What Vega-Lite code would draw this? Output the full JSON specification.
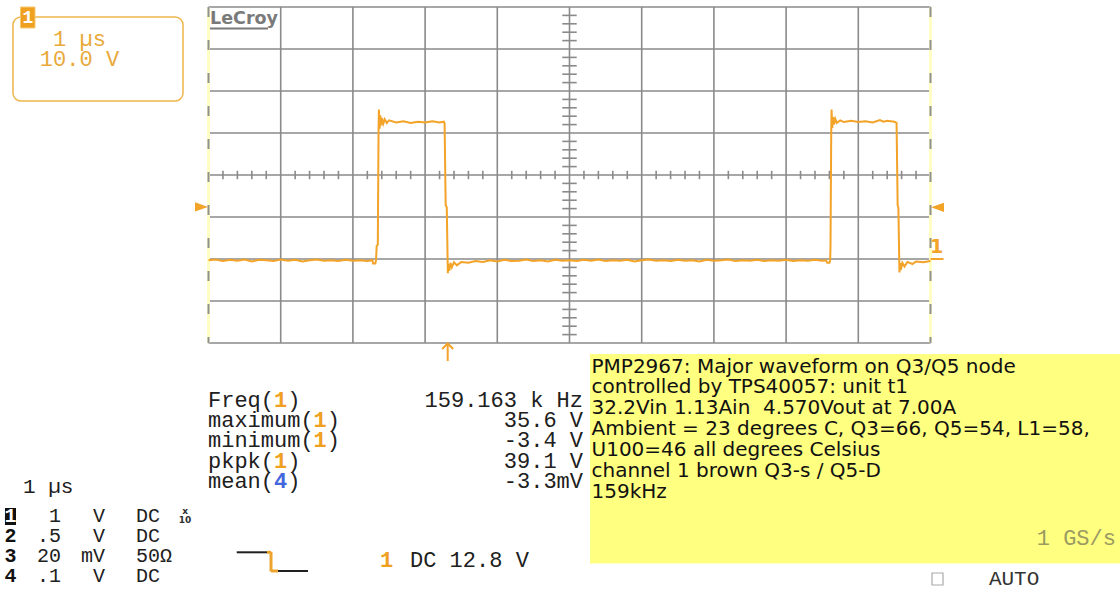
{
  "$schema": "https://vega.github.io/schema/vega-lite/v6.json",
  "width": 722,
  "height": 336,
  "autosize": {"type": "none"},
  "padding": {"left": 208.5, "top": 7, "right": 189.5, "bottom": 247},
  "background": "white",
  "config": {"view": {"stroke": null}},
  "data": {"values": [
    {"t": 0.00, "v": -0.3}, {"t": 0.10, "v": -0.1}, {"t": 0.20, "v": -0.5}, {"t": 0.30, "v": -0.2},
    {"t": 0.40, "v": -0.4}, {"t": 0.50, "v": -0.1}, {"t": 0.60, "v": -0.6}, {"t": 0.70, "v": -0.2},
    {"t": 0.80, "v": -0.3}, {"t": 0.90, "v": -0.5}, {"t": 1.00, "v": -0.1}, {"t": 1.10, "v": -0.4},
    {"t": 1.20, "v": -0.2}, {"t": 1.30, "v": -0.6}, {"t": 1.40, "v": -0.3}, {"t": 1.50, "v": -0.1},
    {"t": 1.60, "v": -0.4}, {"t": 1.70, "v": -0.3}, {"t": 1.80, "v": -0.5}, {"t": 1.90, "v": -0.2},
    {"t": 2.00, "v": -0.4}, {"t": 2.10, "v": -0.3}, {"t": 2.20, "v": -0.5}, {"t": 2.27, "v": -0.3},
    {"t": 2.28, "v": -1.1}, {"t": 2.31, "v": -1.1}, {"t": 2.32, "v": -0.3}, {"t": 2.33, "v": 3.2},
    {"t": 2.345, "v": 3.4}, {"t": 2.355, "v": 30.0}, {"t": 2.36, "v": 35.6}, {"t": 2.37, "v": 31.0},
    {"t": 2.38, "v": 34.2}, {"t": 2.39, "v": 31.8}, {"t": 2.40, "v": 33.6}, {"t": 2.42, "v": 32.2},
    {"t": 2.44, "v": 33.3}, {"t": 2.47, "v": 32.4}, {"t": 2.50, "v": 33.0}, {"t": 2.60, "v": 32.5},
    {"t": 2.70, "v": 32.8}, {"t": 2.80, "v": 32.4}, {"t": 2.90, "v": 32.7}, {"t": 3.00, "v": 32.5},
    {"t": 3.10, "v": 32.8}, {"t": 3.20, "v": 32.5}, {"t": 3.26, "v": 32.7}, {"t": 3.27, "v": 32.3},
    {"t": 3.285, "v": 12.8}, {"t": 3.30, "v": 12.3}, {"t": 3.315, "v": -3.4}, {"t": 3.325, "v": -1.2},
    {"t": 3.335, "v": -2.8}, {"t": 3.35, "v": -0.9}, {"t": 3.37, "v": -2.0}, {"t": 3.40, "v": -0.8},
    {"t": 3.44, "v": -1.5}, {"t": 3.50, "v": -0.7}, {"t": 3.60, "v": -0.9}, {"t": 3.70, "v": -0.5},
    {"t": 3.80, "v": -0.7}, {"t": 3.90, "v": -0.3}, {"t": 4.00, "v": -0.6}, {"t": 4.10, "v": -0.2},
    {"t": 4.20, "v": -0.5}, {"t": 4.30, "v": -0.4}, {"t": 4.40, "v": -0.1}, {"t": 4.50, "v": -0.5},
    {"t": 4.60, "v": -0.3}, {"t": 4.70, "v": -0.6}, {"t": 4.80, "v": -0.2}, {"t": 4.90, "v": -0.4},
    {"t": 5.00, "v": -0.3}, {"t": 5.10, "v": -0.5}, {"t": 5.20, "v": -0.2}, {"t": 5.30, "v": -0.4},
    {"t": 5.40, "v": -0.1}, {"t": 5.50, "v": -0.5}, {"t": 5.60, "v": -0.3}, {"t": 5.70, "v": -0.4},
    {"t": 5.80, "v": -0.2}, {"t": 5.90, "v": -0.6}, {"t": 6.00, "v": -0.3}, {"t": 6.10, "v": -0.1},
    {"t": 6.20, "v": -0.4}, {"t": 6.30, "v": -0.3}, {"t": 6.40, "v": -0.5}, {"t": 6.50, "v": -0.2},
    {"t": 6.60, "v": -0.4}, {"t": 6.70, "v": -0.3}, {"t": 6.80, "v": -0.6}, {"t": 6.90, "v": -0.2},
    {"t": 7.00, "v": -0.4}, {"t": 7.10, "v": -0.3}, {"t": 7.20, "v": -0.1}, {"t": 7.30, "v": -0.5},
    {"t": 7.40, "v": -0.3}, {"t": 7.50, "v": -0.4}, {"t": 7.60, "v": -0.2}, {"t": 7.70, "v": -0.5},
    {"t": 7.80, "v": -0.3}, {"t": 7.90, "v": -0.4}, {"t": 8.00, "v": -0.2}, {"t": 8.10, "v": -0.5},
    {"t": 8.20, "v": -0.3}, {"t": 8.30, "v": -0.4}, {"t": 8.40, "v": -0.2}, {"t": 8.50, "v": -0.4},
    {"t": 8.55, "v": -0.3}, {"t": 8.57, "v": -0.9}, {"t": 8.60, "v": -0.9}, {"t": 8.61, "v": -0.3},
    {"t": 8.615, "v": 3.0}, {"t": 8.625, "v": 30.0}, {"t": 8.63, "v": 35.6}, {"t": 8.64, "v": 31.2},
    {"t": 8.65, "v": 33.8}, {"t": 8.66, "v": 32.0}, {"t": 8.68, "v": 33.4}, {"t": 8.70, "v": 32.4},
    {"t": 8.75, "v": 33.0}, {"t": 8.80, "v": 32.6}, {"t": 8.90, "v": 32.9}, {"t": 9.00, "v": 32.6},
    {"t": 9.10, "v": 32.8}, {"t": 9.20, "v": 32.5}, {"t": 9.30, "v": 33.1}, {"t": 9.35, "v": 32.7},
    {"t": 9.40, "v": 32.9}, {"t": 9.50, "v": 32.7}, {"t": 9.53, "v": 32.4}, {"t": 9.545, "v": 12.8},
    {"t": 9.555, "v": 12.3}, {"t": 9.57, "v": -3.2}, {"t": 9.58, "v": -1.0}, {"t": 9.59, "v": -2.6},
    {"t": 9.61, "v": -0.9}, {"t": 9.64, "v": -1.8}, {"t": 9.68, "v": -0.7}, {"t": 9.75, "v": -1.2},
    {"t": 9.80, "v": -0.6}, {"t": 9.90, "v": -0.8}, {"t": 10.00, "v": -0.5}
  ]},
  "layer": [
    {
      "data": {"values": [{}]},
      "mark": {"type": "rect", "fill": "#FFFF80", "clip": false},
      "encoding": {
        "x": {"datum": 5.284, "type": "quantitative", "scale": {"domain": [0, 10], "nice": false, "zero": false}, "axis": null},
        "x2": {"datum": 12.625},
        "y": {"datum": -22.619, "type": "quantitative", "scale": {"domain": [-20, 60], "nice": false, "zero": false}, "axis": null},
        "y2": {"datum": -72.5}
      }
    },
    {
      "data": {"values": [{"t": 1}, {"t": 2}, {"t": 3}, {"t": 4}, {"t": 5}, {"t": 6}, {"t": 7}, {"t": 8}, {"t": 9}]},
      "mark": {"type": "rule", "color": "#8a8a8a", "strokeWidth": 1.6},
      "encoding": {
        "x": {"field": "t", "type": "quantitative", "scale": {"domain": [0, 10], "nice": false, "zero": false}, "axis": null}
      }
    },
    {
      "data": {"values": [{"v": -20}, {"v": -10}, {"v": 0}, {"v": 10}, {"v": 20}, {"v": 30}, {"v": 40}, {"v": 50}, {"v": 60}]},
      "mark": {"type": "rule", "color": "#8a8a8a", "strokeWidth": 1.6},
      "encoding": {
        "y": {"field": "v", "type": "quantitative", "scale": {"domain": [-20, 60], "nice": false, "zero": false}, "axis": null}
      }
    },
    {
      "data": {"values": [
        {"t": 0.2}, {"t": 0.4}, {"t": 0.6}, {"t": 0.8}, {"t": 1.2}, {"t": 1.4}, {"t": 1.6}, {"t": 1.8},
        {"t": 2.2}, {"t": 2.4}, {"t": 2.6}, {"t": 2.8}, {"t": 3.2}, {"t": 3.4}, {"t": 3.6}, {"t": 3.8},
        {"t": 4.2}, {"t": 4.4}, {"t": 4.6}, {"t": 4.8}, {"t": 5.2}, {"t": 5.4}, {"t": 5.6}, {"t": 5.8},
        {"t": 6.2}, {"t": 6.4}, {"t": 6.6}, {"t": 6.8}, {"t": 7.2}, {"t": 7.4}, {"t": 7.6}, {"t": 7.8},
        {"t": 8.2}, {"t": 8.4}, {"t": 8.6}, {"t": 8.8}, {"t": 9.2}, {"t": 9.4}, {"t": 9.6}, {"t": 9.8}
      ]},
      "mark": {"type": "rule", "color": "#8a8a8a", "strokeWidth": 1.6},
      "encoding": {
        "x": {"field": "t", "type": "quantitative", "scale": {"domain": [0, 10], "nice": false, "zero": false}, "axis": null},
        "y": {"datum": 19, "type": "quantitative", "scale": {"domain": [-20, 60], "nice": false, "zero": false}, "axis": null},
        "y2": {"datum": 21}
      }
    },
    {
      "data": {"values": [
        {"v": -18}, {"v": -16}, {"v": -14}, {"v": -12}, {"v": -8}, {"v": -6}, {"v": -4}, {"v": -2},
        {"v": 2}, {"v": 4}, {"v": 6}, {"v": 8}, {"v": 12}, {"v": 14}, {"v": 16}, {"v": 18},
        {"v": 22}, {"v": 24}, {"v": 26}, {"v": 28}, {"v": 32}, {"v": 34}, {"v": 36}, {"v": 38},
        {"v": 42}, {"v": 44}, {"v": 46}, {"v": 48}, {"v": 52}, {"v": 54}, {"v": 56}, {"v": 58}
      ]},
      "mark": {"type": "rule", "color": "#8a8a8a", "strokeWidth": 1.6},
      "encoding": {
        "y": {"field": "v", "type": "quantitative", "scale": {"domain": [-20, 60], "nice": false, "zero": false}, "axis": null},
        "x": {"datum": 4.9, "type": "quantitative", "scale": {"domain": [0, 10], "nice": false, "zero": false}, "axis": null},
        "x2": {"datum": 5.1}
      }
    },
    {
      "data": {"values": [{"t": 0}, {"t": 10}]},
      "mark": {"type": "rule", "color": "#FFFFC4", "strokeWidth": 3},
      "encoding": {
        "x": {"field": "t", "type": "quantitative", "scale": {"domain": [0, 10], "nice": false, "zero": false}, "axis": null}
      }
    },
    {
      "data": {"values": [{"t": 0}, {"t": 10}]},
      "mark": {"type": "rule", "color": "#909090", "strokeWidth": 2, "strokeDash": [10, 23]},
      "encoding": {
        "x": {"field": "t", "type": "quantitative", "scale": {"domain": [0, 10], "nice": false, "zero": false}, "axis": null}
      }
    },
    {
      "mark": {"type": "line", "color": "#F2A328", "strokeWidth": 2},
      "encoding": {
        "x": {"field": "t", "type": "quantitative", "scale": {"domain": [0, 10], "nice": false, "zero": false}, "axis": null},
        "y": {"field": "v", "type": "quantitative", "scale": {"domain": [-20, 60], "nice": false, "zero": false}, "axis": null}
      }
    },
    {
      "data": {"values": [{}]},
      "mark": {"type": "point", "shape": "M-1,-0.7L1,0L-1,0.7Z", "size": 169, "filled": true, "color": "#F2A328", "opacity": 1, "clip": false},
      "encoding": {
        "x": {"datum": -0.097, "type": "quantitative", "scale": {"domain": [0, 10], "nice": false, "zero": false}, "axis": null},
        "y": {"datum": 12.4, "type": "quantitative", "scale": {"domain": [-20, 60], "nice": false, "zero": false}, "axis": null}
      }
    },
    {
      "data": {"values": [{}]},
      "mark": {"type": "point", "shape": "M1,-0.7L-1,0L1,0.7Z", "size": 169, "filled": true, "color": "#F2A328", "opacity": 1, "clip": false},
      "encoding": {
        "x": {"datum": 10.097, "type": "quantitative", "scale": {"domain": [0, 10], "nice": false, "zero": false}, "axis": null},
        "y": {"datum": 12.3, "type": "quantitative", "scale": {"domain": [-20, 60], "nice": false, "zero": false}, "axis": null}
      }
    },
    {
      "data": {"values": [{}]},
      "mark": {"type": "rule", "color": "#F2A328", "strokeWidth": 2, "clip": false},
      "encoding": {
        "x": {"datum": 10.0, "type": "quantitative", "scale": {"domain": [0, 10], "nice": false, "zero": false}, "axis": null},
        "x2": {"datum": 10.18},
        "y": {"datum": 0, "type": "quantitative", "scale": {"domain": [-20, 60], "nice": false, "zero": false}, "axis": null}
      }
    },
    {
      "data": {"values": [{"label": "1"}]},
      "mark": {"type": "text", "font": "DejaVu Sans", "fontWeight": "bold", "fontSize": 19, "align": "center", "baseline": "alphabetic", "color": "#F2A328", "clip": false},
      "encoding": {
        "x": {"datum": 10.083, "type": "quantitative", "scale": {"domain": [0, 10], "nice": false, "zero": false}, "axis": null},
        "y": {"datum": 1.5, "type": "quantitative", "scale": {"domain": [-20, 60], "nice": false, "zero": false}, "axis": null},
        "text": {"field": "label"}
      }
    },
    {
      "data": {"values": [{}]},
      "mark": {"type": "rule", "color": "#F2A328", "strokeWidth": 2, "clip": false},
      "encoding": {
        "x": {"datum": 3.313, "type": "quantitative", "scale": {"domain": [0, 10], "nice": false, "zero": false}, "axis": null},
        "y": {"datum": -20.2, "type": "quantitative", "scale": {"domain": [-20, 60], "nice": false, "zero": false}, "axis": null},
        "y2": {"datum": -24.286}
      }
    },
    {
      "data": {"values": [{}]},
      "mark": {"type": "point", "shape": "M-1,0.5L0,-0.5L1,0.5", "size": 121, "filled": false, "color": "#F2A328", "strokeWidth": 2, "opacity": 1, "clip": false},
      "encoding": {
        "x": {"datum": 3.313, "type": "quantitative", "scale": {"domain": [0, 10], "nice": false, "zero": false}, "axis": null},
        "y": {"datum": -20.77, "type": "quantitative", "scale": {"domain": [-20, 60], "nice": false, "zero": false}, "axis": null}
      }
    },
    {
      "data": {"values": [{}]},
      "mark": {"type": "rect", "filled": false, "color": "#EDB54C", "strokeWidth": 1.5, "cornerRadius": 8, "clip": false},
      "encoding": {
        "x": {"datum": -2.708, "type": "quantitative", "scale": {"domain": [0, 10], "nice": false, "zero": false}, "axis": null},
        "x2": {"datum": -0.353},
        "y": {"datum": 57.619, "type": "quantitative", "scale": {"domain": [-20, 60], "nice": false, "zero": false}, "axis": null},
        "y2": {"datum": 37.619}
      }
    },
    {
      "data": {"values": [{}]},
      "mark": {"type": "rect", "fill": "#F0A020", "stroke": "#F6C870", "strokeWidth": 1, "clip": false},
      "encoding": {
        "x": {"datum": -2.604, "type": "quantitative", "scale": {"domain": [0, 10], "nice": false, "zero": false}, "axis": null},
        "x2": {"datum": -2.403},
        "y": {"datum": 60, "type": "quantitative", "scale": {"domain": [-20, 60], "nice": false, "zero": false}, "axis": null},
        "y2": {"datum": 55}
      }
    },
    {
      "data": {"values": [{"label": "1"}]},
      "mark": {"type": "text", "font": "Liberation Mono", "fontWeight": "bold", "fontSize": 18, "align": "center", "baseline": "middle", "color": "#FFFFFF", "clip": false},
      "encoding": {
        "x": {"datum": -2.503, "type": "quantitative", "scale": {"domain": [0, 10], "nice": false, "zero": false}, "axis": null},
        "y": {"datum": 57.4, "type": "quantitative", "scale": {"domain": [-20, 60], "nice": false, "zero": false}, "axis": null},
        "text": {"field": "label"}
      }
    },
    {
      "data": {"values": [{"label": "1 µs\n10.0 V"}]},
      "mark": {"type": "text", "font": "Liberation Mono", "fontSize": 22, "align": "center", "baseline": "middle", "color": "#E8A93A", "lineBreak": "\n", "lineHeight": 20, "clip": false},
      "encoding": {
        "x": {"datum": -1.787, "type": "quantitative", "scale": {"domain": [0, 10], "nice": false, "zero": false}, "axis": null},
        "y": {"datum": 52.38, "type": "quantitative", "scale": {"domain": [-20, 60], "nice": false, "zero": false}, "axis": null},
        "text": {"field": "label"}
      }
    },
    {
      "data": {"values": [{"label": "LeCroy"}]},
      "mark": {"type": "text", "font": "DejaVu Sans", "fontWeight": "bold", "fontSize": 17.5, "align": "left", "baseline": "alphabetic", "color": "#7a7a7a", "clip": false},
      "encoding": {
        "x": {"datum": 0.021, "type": "quantitative", "scale": {"domain": [0, 10], "nice": false, "zero": false}, "axis": null},
        "y": {"datum": 55.952, "type": "quantitative", "scale": {"domain": [-20, 60], "nice": false, "zero": false}, "axis": null},
        "text": {"field": "label"}
      }
    },
    {
      "data": {"values": [{}]},
      "mark": {"type": "rule", "color": "#7a7a7a", "strokeWidth": 2, "clip": false},
      "encoding": {
        "x": {"datum": 0.021, "type": "quantitative", "scale": {"domain": [0, 10], "nice": false, "zero": false}, "axis": null},
        "x2": {"datum": 0.824},
        "y": {"datum": 54.881, "type": "quantitative", "scale": {"domain": [-20, 60], "nice": false, "zero": false}, "axis": null}
      }
    },
    {
      "data": {"values": [{"label": "Freq(\nmaximum(\nminimum(\npkpk(\nmean("}]},
      "mark": {"type": "text", "font": "Liberation Mono", "fontSize": 22, "align": "left", "baseline": "alphabetic", "color": "#202020", "lineBreak": "\n", "lineHeight": 20.2, "clip": false},
      "encoding": {
        "x": {"datum": -0.007, "type": "quantitative", "scale": {"domain": [0, 10], "nice": false, "zero": false}, "axis": null},
        "y": {"datum": -35.238, "type": "quantitative", "scale": {"domain": [-20, 60], "nice": false, "zero": false}, "axis": null},
        "text": {"field": "label"}
      }
    },
    {
      "data": {"values": [{"label": "1"}]},
      "mark": {"type": "text", "font": "Liberation Mono", "fontWeight": "bold", "fontSize": 22, "align": "left", "baseline": "alphabetic", "color": "#F0A020", "clip": false},
      "encoding": {
        "x": {"datum": 0.907, "type": "quantitative", "scale": {"domain": [0, 10], "nice": false, "zero": false}, "axis": null},
        "y": {"datum": -35.238, "type": "quantitative", "scale": {"domain": [-20, 60], "nice": false, "zero": false}, "axis": null},
        "text": {"field": "label"}
      }
    },
    {
      "data": {"values": [{"label": "1\n1"}]},
      "mark": {"type": "text", "font": "Liberation Mono", "fontWeight": "bold", "fontSize": 22, "align": "left", "baseline": "alphabetic", "color": "#F0A020", "lineBreak": "\n", "lineHeight": 20.2, "clip": false},
      "encoding": {
        "x": {"datum": 1.456, "type": "quantitative", "scale": {"domain": [0, 10], "nice": false, "zero": false}, "axis": null},
        "y": {"datum": -40.048, "type": "quantitative", "scale": {"domain": [-20, 60], "nice": false, "zero": false}, "axis": null},
        "text": {"field": "label"}
      }
    },
    {
      "data": {"values": [{"label": "1"}]},
      "mark": {"type": "text", "font": "Liberation Mono", "fontWeight": "bold", "fontSize": 22, "align": "left", "baseline": "alphabetic", "color": "#F0A020", "clip": false},
      "encoding": {
        "x": {"datum": 0.907, "type": "quantitative", "scale": {"domain": [0, 10], "nice": false, "zero": false}, "axis": null},
        "y": {"datum": -49.667, "type": "quantitative", "scale": {"domain": [-20, 60], "nice": false, "zero": false}, "axis": null},
        "text": {"field": "label"}
      }
    },
    {
      "data": {"values": [{"label": "4"}]},
      "mark": {"type": "text", "font": "Liberation Mono", "fontWeight": "bold", "fontSize": 22, "align": "left", "baseline": "alphabetic", "color": "#4466DD", "clip": false},
      "encoding": {
        "x": {"datum": 0.907, "type": "quantitative", "scale": {"domain": [0, 10], "nice": false, "zero": false}, "axis": null},
        "y": {"datum": -54.476, "type": "quantitative", "scale": {"domain": [-20, 60], "nice": false, "zero": false}, "axis": null},
        "text": {"field": "label"}
      }
    },
    {
      "data": {"values": [{"label": ")"}]},
      "mark": {"type": "text", "font": "Liberation Mono", "fontSize": 22, "align": "left", "baseline": "alphabetic", "color": "#202020", "clip": false},
      "encoding": {
        "x": {"datum": 1.09, "type": "quantitative", "scale": {"domain": [0, 10], "nice": false, "zero": false}, "axis": null},
        "y": {"datum": -35.238, "type": "quantitative", "scale": {"domain": [-20, 60], "nice": false, "zero": false}, "axis": null},
        "text": {"field": "label"}
      }
    },
    {
      "data": {"values": [{"label": ")\n)"}]},
      "mark": {"type": "text", "font": "Liberation Mono", "fontSize": 22, "align": "left", "baseline": "alphabetic", "color": "#202020", "lineBreak": "\n", "lineHeight": 20.2, "clip": false},
      "encoding": {
        "x": {"datum": 1.638, "type": "quantitative", "scale": {"domain": [0, 10], "nice": false, "zero": false}, "axis": null},
        "y": {"datum": -40.048, "type": "quantitative", "scale": {"domain": [-20, 60], "nice": false, "zero": false}, "axis": null},
        "text": {"field": "label"}
      }
    },
    {
      "data": {"values": [{"label": ")\n)"}]},
      "mark": {"type": "text", "font": "Liberation Mono", "fontSize": 22, "align": "left", "baseline": "alphabetic", "color": "#202020", "lineBreak": "\n", "lineHeight": 20.2, "clip": false},
      "encoding": {
        "x": {"datum": 1.09, "type": "quantitative", "scale": {"domain": [0, 10], "nice": false, "zero": false}, "axis": null},
        "y": {"datum": -49.667, "type": "quantitative", "scale": {"domain": [-20, 60], "nice": false, "zero": false}, "axis": null},
        "text": {"field": "label"}
      }
    },
    {
      "data": {"values": [{"label": "159.163 k Hz\n35.6 V\n-3.4 V\n39.1 V\n-3.3mV"}]},
      "mark": {"type": "text", "font": "Liberation Mono", "fontSize": 22, "align": "right", "baseline": "alphabetic", "color": "#202020", "lineBreak": "\n", "lineHeight": 20.2, "clip": false},
      "encoding": {
        "x": {"datum": 5.187, "type": "quantitative", "scale": {"domain": [0, 10], "nice": false, "zero": false}, "axis": null},
        "y": {"datum": -35.238, "type": "quantitative", "scale": {"domain": [-20, 60], "nice": false, "zero": false}, "axis": null},
        "text": {"field": "label"}
      }
    },
    {
      "data": {"values": [{"label": "1 µs"}]},
      "mark": {"type": "text", "font": "Liberation Mono", "fontSize": 21, "align": "left", "baseline": "alphabetic", "color": "#202020", "clip": false},
      "encoding": {
        "x": {"datum": -2.569, "type": "quantitative", "scale": {"domain": [0, 10], "nice": false, "zero": false}, "axis": null},
        "y": {"datum": -55.714, "type": "quantitative", "scale": {"domain": [-20, 60], "nice": false, "zero": false}, "axis": null},
        "text": {"field": "label"}
      }
    },
    {
      "data": {"values": [{}]},
      "mark": {"type": "rect", "fill": "#111111", "clip": false},
      "encoding": {
        "x": {"datum": -2.819, "type": "quantitative", "scale": {"domain": [0, 10], "nice": false, "zero": false}, "axis": null},
        "x2": {"datum": -2.666},
        "y": {"datum": -59.286, "type": "quantitative", "scale": {"domain": [-20, 60], "nice": false, "zero": false}, "axis": null},
        "y2": {"datum": -63.333}
      }
    },
    {
      "data": {"values": [{"label": "1"}]},
      "mark": {"type": "text", "font": "Liberation Mono", "fontWeight": "bold", "fontSize": 20, "align": "center", "baseline": "alphabetic", "color": "#FFFFFF", "clip": false},
      "encoding": {
        "x": {"datum": -2.742, "type": "quantitative", "scale": {"domain": [0, 10], "nice": false, "zero": false}, "axis": null},
        "y": {"datum": -62.619, "type": "quantitative", "scale": {"domain": [-20, 60], "nice": false, "zero": false}, "axis": null},
        "text": {"field": "label"}
      }
    },
    {
      "data": {"values": [{"label": "2\n3\n4"}]},
      "mark": {"type": "text", "font": "Liberation Mono", "fontWeight": "bold", "fontSize": 20, "align": "center", "baseline": "alphabetic", "color": "#111111", "lineBreak": "\n", "lineHeight": 20, "clip": false},
      "encoding": {
        "x": {"datum": -2.742, "type": "quantitative", "scale": {"domain": [0, 10], "nice": false, "zero": false}, "axis": null},
        "y": {"datum": -67.381, "type": "quantitative", "scale": {"domain": [-20, 60], "nice": false, "zero": false}, "axis": null},
        "text": {"field": "label"}
      }
    },
    {
      "data": {"values": [{"label": "1\n.5\n20\n.1"}]},
      "mark": {"type": "text", "font": "Liberation Mono", "fontSize": 20, "align": "right", "baseline": "alphabetic", "color": "#202020", "lineBreak": "\n", "lineHeight": 20, "clip": false},
      "encoding": {
        "x": {"datum": -2.043, "type": "quantitative", "scale": {"domain": [0, 10], "nice": false, "zero": false}, "axis": null},
        "y": {"datum": -62.619, "type": "quantitative", "scale": {"domain": [-20, 60], "nice": false, "zero": false}, "axis": null},
        "text": {"field": "label"}
      }
    },
    {
      "data": {"values": [{"label": "V\nV\nmV\nV"}]},
      "mark": {"type": "text", "font": "Liberation Mono", "fontSize": 20, "align": "right", "baseline": "alphabetic", "color": "#202020", "lineBreak": "\n", "lineHeight": 20, "clip": false},
      "encoding": {
        "x": {"datum": -1.434, "type": "quantitative", "scale": {"domain": [0, 10], "nice": false, "zero": false}, "axis": null},
        "y": {"datum": -62.619, "type": "quantitative", "scale": {"domain": [-20, 60], "nice": false, "zero": false}, "axis": null},
        "text": {"field": "label"}
      }
    },
    {
      "data": {"values": [{"label": "DC\nDC\n50Ω\nDC"}]},
      "mark": {"type": "text", "font": "Liberation Mono", "fontSize": 20, "align": "left", "baseline": "alphabetic", "color": "#202020", "lineBreak": "\n", "lineHeight": 20, "clip": false},
      "encoding": {
        "x": {"datum": -1.004, "type": "quantitative", "scale": {"domain": [0, 10], "nice": false, "zero": false}, "axis": null},
        "y": {"datum": -62.619, "type": "quantitative", "scale": {"domain": [-20, 60], "nice": false, "zero": false}, "axis": null},
        "text": {"field": "label"}
      }
    },
    {
      "data": {"values": [{"label": "x\n10"}]},
      "mark": {"type": "text", "font": "DejaVu Sans", "fontWeight": "bold", "fontSize": 9, "align": "center", "baseline": "alphabetic", "color": "#303030", "lineBreak": "\n", "lineHeight": 9, "clip": false},
      "encoding": {
        "x": {"datum": -0.325, "type": "quantitative", "scale": {"domain": [0, 10], "nice": false, "zero": false}, "axis": null},
        "y": {"datum": -60.6, "type": "quantitative", "scale": {"domain": [-20, 60], "nice": false, "zero": false}, "axis": null},
        "text": {"field": "label"}
      }
    },
    {
      "data": {"values": [{}]},
      "mark": {"type": "rule", "color": "#202020", "strokeWidth": 2, "clip": false},
      "encoding": {
        "x": {"datum": 0.391, "type": "quantitative", "scale": {"domain": [0, 10], "nice": false, "zero": false}, "axis": null},
        "x2": {"datum": 0.81},
        "y": {"datum": -69.833, "type": "quantitative", "scale": {"domain": [-20, 60], "nice": false, "zero": false}, "axis": null}
      }
    },
    {
      "data": {"values": [{}]},
      "mark": {"type": "rule", "color": "#202020", "strokeWidth": 2, "clip": false},
      "encoding": {
        "x": {"datum": 0.963, "type": "quantitative", "scale": {"domain": [0, 10], "nice": false, "zero": false}, "axis": null},
        "x2": {"datum": 1.378},
        "y": {"datum": -74.286, "type": "quantitative", "scale": {"domain": [-20, 60], "nice": false, "zero": false}, "axis": null}
      }
    },
    {
      "data": {"values": [{}]},
      "mark": {"type": "rule", "color": "#EBA52E", "strokeWidth": 3, "clip": false},
      "encoding": {
        "x": {"datum": 0.81, "type": "quantitative", "scale": {"domain": [0, 10], "nice": false, "zero": false}, "axis": null},
        "x2": {"datum": 0.866},
        "y": {"datum": -69.833, "type": "quantitative", "scale": {"domain": [-20, 60], "nice": false, "zero": false}, "axis": null}
      }
    },
    {
      "data": {"values": [{}]},
      "mark": {"type": "rule", "color": "#EBA52E", "strokeWidth": 3, "clip": false},
      "encoding": {
        "x": {"datum": 0.866, "type": "quantitative", "scale": {"domain": [0, 10], "nice": false, "zero": false}, "axis": null},
        "y": {"datum": -69.7, "type": "quantitative", "scale": {"domain": [-20, 60], "nice": false, "zero": false}, "axis": null},
        "y2": {"datum": -74.4}
      }
    },
    {
      "data": {"values": [{}]},
      "mark": {"type": "rule", "color": "#EBA52E", "strokeWidth": 3, "clip": false},
      "encoding": {
        "x": {"datum": 0.866, "type": "quantitative", "scale": {"domain": [0, 10], "nice": false, "zero": false}, "axis": null},
        "x2": {"datum": 0.963},
        "y": {"datum": -74.286, "type": "quantitative", "scale": {"domain": [-20, 60], "nice": false, "zero": false}, "axis": null}
      }
    },
    {
      "data": {"values": [{"label": "1"}]},
      "mark": {"type": "text", "font": "Liberation Mono", "fontWeight": "bold", "fontSize": 22, "align": "left", "baseline": "alphabetic", "color": "#F0A020", "clip": false},
      "encoding": {
        "x": {"datum": 2.375, "type": "quantitative", "scale": {"domain": [0, 10], "nice": false, "zero": false}, "axis": null},
        "y": {"datum": -73.333, "type": "quantitative", "scale": {"domain": [-20, 60], "nice": false, "zero": false}, "axis": null},
        "text": {"field": "label"}
      }
    },
    {
      "data": {"values": [{"label": "DC 12.8 V"}]},
      "mark": {"type": "text", "font": "Liberation Mono", "fontSize": 22, "align": "left", "baseline": "alphabetic", "color": "#202020", "clip": false},
      "encoding": {
        "x": {"datum": 2.791, "type": "quantitative", "scale": {"domain": [0, 10], "nice": false, "zero": false}, "axis": null},
        "y": {"datum": -73.333, "type": "quantitative", "scale": {"domain": [-20, 60], "nice": false, "zero": false}, "axis": null},
        "text": {"field": "label"}
      }
    },
    {
      "data": {"values": [{"label": "PMP2967: Major waveform on Q3/Q5 node\ncontrolled by TPS40057: unit t1\n32.2Vin 1.13Ain\u00a0 4.570Vout at 7.00A\nAmbient = 23 degrees C, Q3=66, Q5=54, L1=58,\nU100=46 all degrees Celsius\nchannel 1 brown Q3-s / Q5-D\n159kHz"}]},
      "mark": {"type": "text", "font": "DejaVu Sans", "fontSize": 20, "align": "left", "baseline": "alphabetic", "color": "#111111", "lineBreak": "\n", "lineHeight": 20.9, "clip": false},
      "encoding": {
        "x": {"datum": 5.305, "type": "quantitative", "scale": {"domain": [0, 10], "nice": false, "zero": false}, "axis": null},
        "y": {"datum": -27.024, "type": "quantitative", "scale": {"domain": [-20, 60], "nice": false, "zero": false}, "axis": null},
        "text": {"field": "label"}
      }
    },
    {
      "data": {"values": [{"label": "1 GS/s"}]},
      "mark": {"type": "text", "font": "Liberation Mono", "fontSize": 22, "align": "right", "baseline": "alphabetic", "color": "#9a9a62", "clip": false},
      "encoding": {
        "x": {"datum": 12.569, "type": "quantitative", "scale": {"domain": [0, 10], "nice": false, "zero": false}, "axis": null},
        "y": {"datum": -68.095, "type": "quantitative", "scale": {"domain": [-20, 60], "nice": false, "zero": false}, "axis": null},
        "text": {"field": "label"}
      }
    },
    {
      "data": {"values": [{}]},
      "mark": {"type": "rect", "filled": false, "color": "#aaaaaa", "strokeWidth": 1.2, "clip": false},
      "encoding": {
        "x": {"datum": 10.021, "type": "quantitative", "scale": {"domain": [0, 10], "nice": false, "zero": false}, "axis": null},
        "x2": {"datum": 10.173},
        "y": {"datum": -74.762, "type": "quantitative", "scale": {"domain": [-20, 60], "nice": false, "zero": false}, "axis": null},
        "y2": {"datum": -77.619}
      }
    },
    {
      "data": {"values": [{"label": "AUTO"}]},
      "mark": {"type": "text", "font": "Liberation Mono", "fontSize": 21, "align": "left", "baseline": "alphabetic", "color": "#333333", "clip": false},
      "encoding": {
        "x": {"datum": 10.809, "type": "quantitative", "scale": {"domain": [0, 10], "nice": false, "zero": false}, "axis": null},
        "y": {"datum": -77.6, "type": "quantitative", "scale": {"domain": [-20, 60], "nice": false, "zero": false}, "axis": null},
        "text": {"field": "label"}
      }
    }
  ]
}
